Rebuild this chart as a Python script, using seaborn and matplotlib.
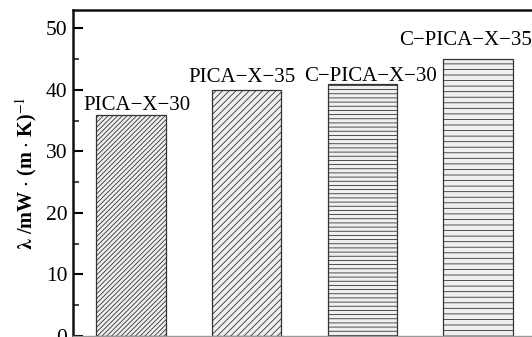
import matplotlib
matplotlib.use("Agg")
import matplotlib.pyplot as plt
import seaborn as sns

# Thermal conductivity of the four aerogel samples
samples = ["PICA\u2212X\u221230", "PICA\u2212X\u221235", "C\u2212PICA\u2212X\u221230", "C\u2212PICA\u2212X\u221235"]
conductivity = [36, 40, 41, 45]

hatches = ["///////", "/////", "----", "---"]
label_dx = [4.7, -3, 5.8, -9.4]   # horizontal nudge of each name label, points
label_dy = [3.6, 5.8, 2.2, 10]    # gap between bar top and label baseline, points

sns.set_theme(style="ticks")
plt.rcParams["font.family"] = ["Liberation Serif", "DejaVu Serif"]
plt.rcParams["mathtext.fontset"] = "stix"
plt.rcParams["hatch.linewidth"] = 0.6

fig = plt.figure(figsize=(5.32, 3.37), dpi=100)
ax = fig.add_axes([73 / 532, 1 / 337, 463 / 532, 326 / 337])

sns.barplot(x=samples, y=conductivity, ax=ax, color="#efefef",
            edgecolor="#333333", linewidth=0.9, width=0.6, saturation=1)

for bar, h in zip(ax.patches, hatches):
    bar.set_hatch(h)

for i, (name, val) in enumerate(zip(samples, conductivity)):
    ax.annotate(name, xy=(i, val), xytext=(label_dx[i], label_dy[i]),
                textcoords="offset points", ha="center", va="baseline",
                fontsize=15, color="#000000")

ax.set_xlim(-0.5, 3.5)
ax.set_ylim(0, 53)
ax.set_yticks([0, 10, 20, 30, 40, 50])
ax.set_yticks([5, 15, 25, 35, 45], minor=True)
ax.set_xticks([])
ax.tick_params(axis="y", which="major", direction="in", length=7, width=1.5,
               labelsize=15.5, pad=4, colors="#000000")
ax.tick_params(axis="y", which="minor", direction="in", length=4, width=1.2)
ax.set_ylabel(r"$\mathbf{\lambda}$ /mW $\cdot$ (m $\cdot$ K)$^{-1}$",
              fontsize=14.5, fontweight="bold", labelpad=5, color="#000000")

for side in ["left", "top"]:
    ax.spines[side].set_linewidth(1.8)
    ax.spines[side].set_color("#111111")
ax.spines["bottom"].set_color("#999999")
ax.spines["bottom"].set_linewidth(1.0)
ax.spines["right"].set_visible(False)
ax.set_xlabel("")

fig.savefig("out.png", dpi=100)
